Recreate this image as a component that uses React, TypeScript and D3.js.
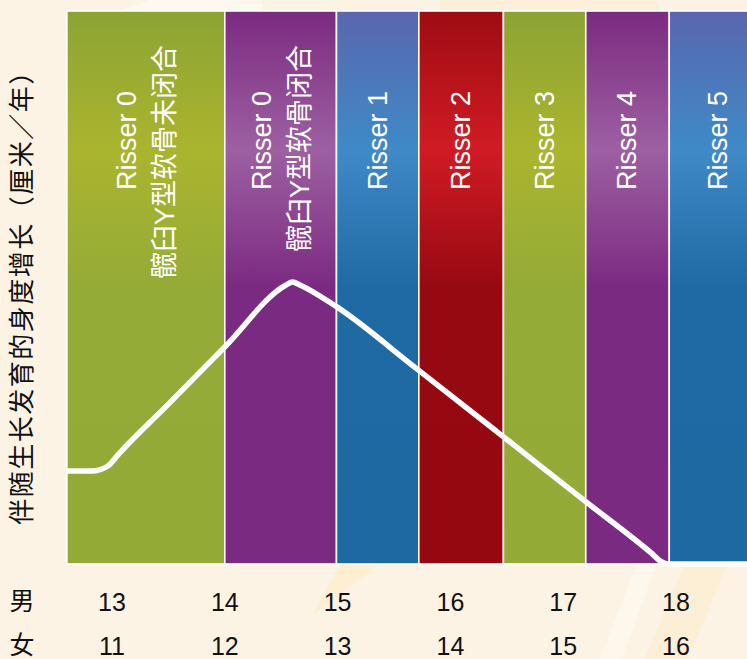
import React, { useEffect } from 'react';
import * as d3 from 'd3';

const W = 747;
const H = 659;

// Stage bands (age in years, boys' scale)
const stageLabels: string[][] = [
  ['Risser 0', '髋臼Y型软骨未闭合'],
  ['Risser 0', '髋臼Y型软骨闭合'],
  ['Risser 1'],
  ['Risser 2'],
  ['Risser 3'],
  ['Risser 4'],
  ['Risser 5'],
];
const stageStart = [12.6, 14.0, 14.99, 15.72, 16.47, 17.2, 17.94];
const stageEnd = [14.0, 14.99, 15.72, 16.47, 17.2, 17.94, 18.8];
const stageColor = ['green', 'purple', 'blue', 'red', 'green', 'purple', 'blue'];

// Axis tick labels
const boyAges = [13, 14, 15, 16, 17, 18];
const girlAges = [11, 12, 13, 14, 15, 16];

// Growth velocity curve (age, cm/year, relative)
const curveAges = [12.6, 12.823, 12.894, 12.965, 13.053, 13.5, 14.0, 14.54, 14.6, 14.67, 14.98, 15.7, 16.44, 17.18, 17.78, 17.87, 17.93, 18.8];
const curveVelocity = [2.02, 2.02, 2.05, 2.13, 2.37, 3.47, 4.71, 6.05, 6.12, 6.05, 5.6, 4.24, 2.82, 1.39, 0.24, 0.05, 0.0, 0.0];

const yLabel = '伴随生长发育的身度增长（厘米／年）';

const gradients: Record<string, [number, string][]> = {
  green: [[0, '#8CA334'], [0.25, '#AAB52E'], [0.5, '#95AB37'], [1, '#93AA36']],
  purple: [[0, '#7B2A80'], [0.25, '#9D60A1'], [0.5, '#7B2A81'], [1, '#7A2A80']],
  blue: [[0, '#5A66AE'], [0.25, '#3F8AC7'], [0.5, '#1F6AA4'], [1, '#1E69A2']],
  red: [[0, '#9E0C12'], [0.25, '#D01B24'], [0.5, '#970911'], [1, '#96080F']],
};

const FONT = '"Liberation Sans", Arial, "Noto Sans CJK SC", sans-serif';

export default function App() {
  useEffect(() => {
    document.body.style.margin = '0';
  }, []);

  const x = d3.scaleLinear().domain([13, 18]).range([112, 676]);
  const y = d3.scaleLinear().domain([0, 12]).range([564, 11]);

  const pts: [number, number][] = curveAges.map((a, i) => [a, curveVelocity[i]]);
  const line = d3
    .line<[number, number]>()
    .x((d) => x(d[0]))
    .y((d) => y(d[1]))
    .curve(d3.curveMonotoneX);

  const top = y(12);
  const bottom = y(0);

  return (
    <svg
      width={W}
      height={H}
      viewBox={`0 0 ${W} ${H}`}
      style={{ position: 'absolute', left: 0, top: 0, display: 'block' }}
    >
      <defs>
        {Object.keys(gradients).map((k) => (
          <linearGradient key={k} id={`g-${k}`} x1="0" y1="0" x2="0" y2="1">
            {gradients[k].map(([o, c], i) => (
              <stop key={i} offset={o} stopColor={c} />
            ))}
          </linearGradient>
        ))}
      </defs>

      <rect x={0} y={0} width={W} height={H} fill="#FDF3E5" />
      {/* faint background rays */}
      <polygon points="313,615 345,555 392,555" fill="#FDEBCB" opacity={0.7} />
      <polygon points="688,555 731,555 688,659 645,659" fill="#FDEDD2" opacity={0.8} />
      <polygon points="600,659 622,659 660,555 640,555" fill="#FEF7EE" opacity={0.8} />
      <polygon points="115,12 150,0 262,0 262,12" fill="#FEF8EF" />
      <polygon points="440,0 655,0 662,12 440,12" fill="#FDEFD9" />

      {stageStart.map((s, i) => (
        <rect
          key={i}
          x={x(s)}
          y={top}
          width={x(stageEnd[i]) - x(s)}
          height={bottom - top}
          fill={`url(#g-${stageColor[i]})`}
          stroke="#FFFFFF"
          strokeWidth={1.6}
        />
      ))}

      {stageLabels.map((lines, i) => {
        const cx = (x(stageStart[i]) + x(stageEnd[i])) / 2;
        const offsets = lines.length === 1 ? [9] : [-10, 28];
        return lines.map((t, j) => {
          const bx = cx + offsets[j];
          const by = j === 0 ? 190 : 45;
          return (
            <text
              key={`${i}-${j}`}
              transform={`translate(${bx},${by}) rotate(-90)`}
              textAnchor={j === 0 ? 'start' : 'end'}
              fontFamily={FONT}
              fontSize={27}
              fill="#FFFFFF"
            >
              {t}
            </text>
          );
        });
      })}

      <path
        d={line(pts) || ''}
        fill="none"
        stroke="#FFFFFF"
        strokeWidth={5.5}
        strokeLinejoin="round"
      />

      <text
        transform={`translate(${31},${291}) rotate(-90)`}
        textAnchor="middle"
        fontFamily={FONT}
        fontSize={26}
        letterSpacing={1.5}
        fill="#111111"
      >
        {yLabel}
      </text>

      <text x={22} y={610} textAnchor="middle" fontFamily={FONT} fontSize={25} fill="#111111">
        男
      </text>
      <text x={22} y={654} textAnchor="middle" fontFamily={FONT} fontSize={25} fill="#111111">
        女
      </text>
      {boyAges.map((a) => (
        <text key={`b${a}`} x={x(a)} y={611} textAnchor="middle" fontFamily={FONT} fontSize={25} fill="#111111">
          {a}
        </text>
      ))}
      {girlAges.map((a, i) => (
        <text key={`g${a}`} x={x(boyAges[i])} y={655} textAnchor="middle" fontFamily={FONT} fontSize={25} fill="#111111">
          {a}
        </text>
      ))}
    </svg>
  );
}
